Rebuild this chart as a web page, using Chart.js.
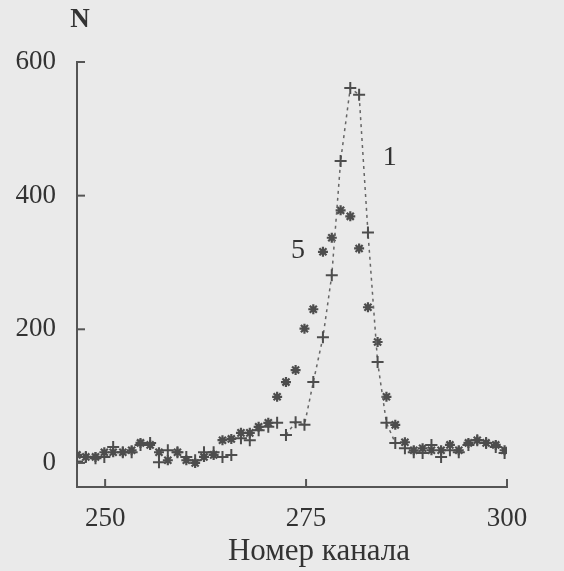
<!DOCTYPE html>
<html>
<head>
<meta charset="utf-8">
<script src="https://cdn.jsdelivr.net/npm/chart.js@4.4.1/dist/chart.umd.min.js"></script>
<style>
  html, body { margin: 0; padding: 0; background: #eaeaea; }
  #caixa { width: 564px; height: 571px; }
</style>
</head>
<body>
<div id="caixa"><canvas id="grafico" width="564" height="571"></canvas></div>
<script>
// Номер канала (положения точек)
const canais = [
  246.5, 247.6, 248.8, 249.9, 251.0, 252.2, 253.3, 254.4, 255.6, 256.7,
  257.8, 259.0, 260.1, 261.2, 262.3, 263.5, 264.6, 265.7, 266.9, 268.0,
  269.1, 270.3, 271.4, 272.5, 273.7, 274.8, 275.9, 277.1, 278.2, 279.3,
  280.5, 281.6, 282.7, 283.9, 285.0, 286.1, 287.3, 288.4, 289.5, 290.6,
  291.8, 292.9, 294.0, 295.2, 296.3, 297.4, 298.6, 299.7
];

// кривая 1 (крестики)
const serie1 = [
  2, 9, 7, 9, 24, 16, 16, 27, 30, 1,
  19, 16, 9, 4, 16, 16, 9, 12, 37, 34,
  49, 54, 60, 42, 61, 57, 121, 188, 281, 452,
  561, 551, 345, 151, 60, 30, 22, 16, 15, 27,
  9, 19, 16, 27, 34, 30, 24, 15
];

// кривая 5 (звёздочки)
const serie5 = [
  12, 9, 9, 16, 16, 16, 19, 30, 27, 16,
  4, 16, 4, 0, 9, 12, 34, 36, 45, 45,
  54, 60, 99, 121, 139, 201, 230, 316, 337, 378,
  369, 321, 233, 181, 99, 57, 31, 19, 22, 19,
  19, 27, 19, 30, 34, 30, 27, 19
];

const ticksX = [250, 275, 300];
const ticksY = [0, 200, 400, 600];

// trecho da curva 1 ligado por linha pontilhada
const trechoLinha = [23, 35];

const rotulos = [
  { texto: '1', x: 285.4, y: 457 },
  { texto: '5', x: 274.0, y: 318 },
];

const tituloX = 'Номер канала';

const corTinta = '#333';
const corMarca = '#4d4d4d';
const fonte = '"Liberation Serif", "Times New Roman", serif';

const pontos = (serie) => serie.map((v, i) => ({ x: canais[i], y: v }));

// rótulos das curvas, "N", título do eixo x e os tiques internos
const extras = {
  id: 'extras',
  afterDraw(chart) {
    const { ctx, chartArea, scales } = chart;
    ctx.save();
    ctx.fillStyle = corTinta;
    ctx.strokeStyle = '#555';
    ctx.lineWidth = 2;
    ctx.font = `28px ${fonte}`;
    ctx.textAlign = 'center';
    ctx.textBaseline = 'middle';
    rotulos.forEach(({ texto, x, y }) => {
      ctx.fillText(texto, scales.x.getPixelForValue(x), scales.y.getPixelForValue(y));
    });
    ctx.font = `bold 27px ${fonte}`;
    ctx.fillText('N', chartArea.left + 3, chartArea.top - 42);

    ctx.font = `31px ${fonte}`;
    ctx.fillText(tituloX, chartArea.left + 242, chartArea.bottom + 65);

    ticksY.forEach((v) => {
      const py = scales.y.getPixelForValue(v);
      ctx.beginPath();
      ctx.moveTo(chartArea.left, py);
      ctx.lineTo(chartArea.left + 8, py);
      ctx.stroke();
    });
    ticksX.forEach((v) => {
      const px = scales.x.getPixelForValue(v);
      ctx.beginPath();
      ctx.moveTo(px, chartArea.bottom);
      ctx.lineTo(px, chartArea.bottom - 8);
      ctx.stroke();
    });
    ctx.restore();
  },
};

new Chart(document.getElementById('grafico'), {
  type: 'scatter',
  data: {
    datasets: [
      {
        label: '1',
        data: pontos(serie1),
        showLine: true,
        borderWidth: 1.5,
        borderDash: [3, 4],
        segment: {
          borderColor: (c) =>
            c.p0DataIndex >= trechoLinha[0] && c.p1DataIndex <= trechoLinha[1] ? '#666' : 'transparent',
        },
        pointStyle: 'cross',
        pointRadius: 6,
        pointBorderWidth: 2,
        pointBorderColor: corMarca,
        pointBackgroundColor: corMarca,
      },
      {
        label: '5',
        data: pontos(serie5),
        showLine: false,
        pointStyle: 'star',
        pointRadius: 5,
        pointBorderWidth: 2.2,
        pointBorderColor: corMarca,
        pointBackgroundColor: corMarca,
      },
    ],
  },
  options: {
    responsive: false,
    animation: false,
    layout: { padding: { left: 0, right: 57, top: 62, bottom: 0 } },
    plugins: { legend: { display: false }, tooltip: { enabled: false } },
    scales: {
      x: {
        type: 'linear',
        min: 246.5,
        max: 300,
        afterBuildTicks: (s) => { s.ticks = ticksX.map((v) => ({ value: v })); },
        afterFit: (s) => { s.height = 84; },
        grid: { display: false, drawTicks: false },
        border: { display: true, color: '#555', width: 2 },
        ticks: { color: corTinta, padding: 16, font: { family: fonte, size: 27 }, maxRotation: 0 },
      },
      y: {
        min: -36,
        max: 600,
        afterBuildTicks: (s) => { s.ticks = ticksY.map((v) => ({ value: v })); },
        afterFit: (s) => { s.width = 77; },
        grid: { display: false, drawTicks: false },
        border: { display: true, color: '#555', width: 2 },
        ticks: { color: corTinta, padding: 21, font: { family: fonte, size: 27 } },
      },
    },
  },
  plugins: [extras],
});
</script>
</body>
</html>
